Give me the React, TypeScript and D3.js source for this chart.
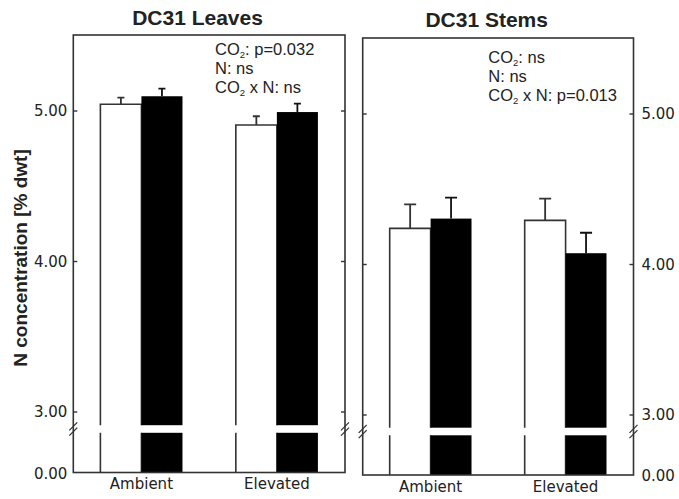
import React from "react";
import * as d3 from "d3";

// ---- data ----
const treatments = ["Ambient", "Elevated"];
const subSeries = ["open", "filled"];

const leavesOpen = [5.045, 4.907];
const leavesOpenSE = [0.044, 0.058];
const leavesFilled = [5.098, 4.993];
const leavesFilledSE = [0.051, 0.056];

const stemsOpen = [4.24, 4.293];
const stemsOpenSE = [0.16, 0.145];
const stemsFilled = [4.305, 4.075];
const stemsFilledSE = [0.14, 0.136];

const yTickValues = [5, 4, 3];
const yTickLabels = ["5.00", "4.00", "3.00"];
const zeroLabel = "0.00";

const leavesStats = ["CO2: p=0.032", "N: ns", "CO2 x N: ns"];
const stemsStats = ["CO2: ns", "N: ns", "CO2 x N: p=0.013"];

const yAxisTitle = "N concentration [% dwt]";

const INK = "#222";
const LINE = "#333";
const SANS = "'Liberation Sans', Arial, sans-serif";
const TICKFONT = "'DejaVu Sans', Verdana, sans-serif";

function StatLine({ text, x, y }: { text: string; x: number; y: number }) {
  const parts = text.split("CO2");
  const out: any[] = [];
  parts.forEach((p, i) => {
    if (i > 0) {
      out.push(<tspan key={"c" + i}>CO</tspan>);
      out.push(
        <tspan key={"s" + i} fontSize="9.5" dy="3">
          2
        </tspan>
      );
      out.push(
        <tspan key={"p" + i} dy="-3">
          {p}
        </tspan>
      );
    } else if (p.length) {
      out.push(<tspan key={"p" + i}>{p}</tspan>);
    }
  });
  return (
    <text x={x} y={y} fontFamily={SANS} fontSize={16.5} fill={INK}>
      {out}
    </text>
  );
}

type PanelProps = {
  x0: number;
  x1: number;
  top: number;
  bottom: number;
  y5: number;
  y3: number;
  breakY: number;
  open: number[];
  openSE: number[];
  filled: number[];
  filledSE: number[];
  capW: number;
  labelSide: "left" | "right";
  title: string;
  titleX: number;
  titleY: number;
  stats: string[];
  statsX: number;
  statsY: number;
  xLabelY: number;
};

function Panel(p: PanelProps) {
  const yUp = d3.scaleLinear().domain([3, 5]).range([p.y3, p.y5]);
  const gap = 3.8;
  const upMin = yUp.invert(p.breakY - gap);
  const yLow = d3.scaleLinear().domain([0, 1]).range([p.bottom, p.breakY + gap]);
  const xBand = d3
    .scaleBand()
    .domain(treatments)
    .range([p.x0, p.x1])
    .paddingInner(0.394)
    .paddingOuter(0.2);
  const xSub = d3.scaleBand().domain(subSeries).range([0, xBand.bandwidth()]);
  const bw = xSub.bandwidth();

  const bars: any[] = [];
  treatments.forEach((t, i) => {
    const gx = xBand(t)!;
    [
      { k: "open", v: p.open[i], se: p.openSE[i] },
      { k: "filled", v: p.filled[i], se: p.filledSE[i] },
    ].forEach((b) => {
      const bx = gx + xSub(b.k)!;
      const yt = yUp(b.v);
      const yb = yUp(upMin);
      const ly0 = yLow(0);
      const ly1 = yLow(1);
      const cx = bx + bw / 2;
      const ye = yUp(b.v + b.se);
      if (b.k === "filled") {
        bars.push(<rect key={t + b.k + "u"} x={bx} y={yt} width={bw} height={yb - yt} fill="#000" />);
        bars.push(<rect key={t + b.k + "l"} x={bx} y={ly1} width={bw} height={ly0 - ly1} fill="#000" />);
      } else {
        bars.push(
          <path
            key={t + b.k + "u"}
            d={`M${bx},${yb}L${bx},${yt}L${bx + bw},${yt}L${bx + bw},${yb}`}
            fill="#fff"
            stroke={LINE}
            strokeWidth={1.6}
          />
        );
        bars.push(
          <path
            key={t + b.k + "l"}
            d={`M${bx},${ly0}L${bx},${ly1}M${bx + bw},${ly1}L${bx + bw},${ly0}`}
            fill="none"
            stroke={LINE}
            strokeWidth={1.6}
          />
        );
      }
      bars.push(
        <path
          key={t + b.k + "e"}
          d={`M${cx},${yt}L${cx},${ye}M${cx - p.capW / 2},${ye}L${cx + p.capW / 2},${ye}`}
          stroke={b.k === "filled" ? "#111" : LINE}
          strokeWidth={1.8}
          fill="none"
        />
      );
    });
  });

  const ticks: any[] = [];
  yTickValues.forEach((v, i) => {
    const y = yUp(v);
    ticks.push(<line key={"tl" + i} x1={p.x0} x2={p.x0 + 4} y1={y} y2={y} stroke={LINE} strokeWidth={1.4} />);
    ticks.push(<line key={"tr" + i} x1={p.x1 - 4} x2={p.x1} y1={y} y2={y} stroke={LINE} strokeWidth={1.4} />);
    const lx = p.labelSide === "left" ? p.x0 - 6 : p.x1 + 8;
    ticks.push(
      <text
        key={"lab" + i}
        x={lx}
        y={y}
        dy="0.36em"
        textAnchor={p.labelSide === "left" ? "end" : "start"}
        fontFamily={TICKFONT}
        fontSize={15}
        fill={INK}
      >
        {yTickLabels[i]}
      </text>
    );
  });
  const lx0 = p.labelSide === "left" ? p.x0 - 6 : p.x1 + 8;
  ticks.push(
    <text
      key="zero"
      x={lx0}
      y={yLow(0)}
      dy="0.4em"
      textAnchor={p.labelSide === "left" ? "end" : "start"}
      fontFamily={TICKFONT}
      fontSize={15}
      fill={INK}
    >
      {zeroLabel}
    </text>
  );

  const breaks = [p.x0, p.x1].map((x, i) => (
    <g key={"br" + i}>
      {[-2.6, 2.6].map((d, j) => (
        <line
          key={j}
          x1={x - 4}
          y1={p.breakY + d + 4}
          x2={x + 4}
          y2={p.breakY + d - 4}
          stroke={LINE}
          strokeWidth={1.3}
        />
      ))}
    </g>
  ));

  return (
    <g>
      <text x={p.titleX} y={p.titleY} textAnchor="middle" fontFamily={SANS} fontWeight="bold" fontSize={21} fill={INK}>
        {p.title}
      </text>
      {bars}
      <rect
        x={p.x0}
        y={p.top}
        width={p.x1 - p.x0}
        height={p.bottom - p.top}
        fill="none"
        stroke={LINE}
        strokeWidth={1.6}
      />
      {ticks}
      {breaks}
      {p.stats.map((s, i) => (
        <StatLine key={i} text={s} x={p.statsX} y={p.statsY + i * 19} />
      ))}
      {treatments.map((t) => (
        <text
          key={"x" + t}
          x={xBand(t)! + xBand.bandwidth() / 2}
          y={p.xLabelY}
          textAnchor="middle"
          fontFamily={TICKFONT}
          fontSize={15}
          fill={INK}
        >
          {t}
        </text>
      ))}
    </g>
  );
}

export default function App() {
  return (
    <svg
      width={679}
      height={499}
      viewBox="0 0 679 499"
      style={{ position: "absolute", left: 0, top: 0, background: "#fff" }}
    >
      <rect x={0} y={0} width={679} height={499} fill="#fff" />
      <Panel
        x0={73.3}
        x1={345}
        top={35}
        bottom={472.5}
        y5={111}
        y3={412}
        breakY={429}
        open={leavesOpen}
        openSE={leavesOpenSE}
        filled={leavesFilled}
        filledSE={leavesFilledSE}
        capW={7}
        labelSide="left"
        title="DC31 Leaves"
        titleX={197.5}
        titleY={25}
        stats={leavesStats}
        statsX={215}
        statsY={54.5}
        xLabelY={489}
      />
      <Panel
        x0={362.7}
        x1={633.5}
        top={38}
        bottom={475}
        y5={114}
        y3={415}
        breakY={431.5}
        open={stemsOpen}
        openSE={stemsOpenSE}
        filled={stemsFilled}
        filledSE={stemsFilledSE}
        capW={12}
        labelSide="right"
        title="DC31 Stems"
        titleX={486.7}
        titleY={27}
        stats={stemsStats}
        statsX={488.3}
        statsY={63.3}
        xLabelY={492}
      />
      <text
        transform="translate(27,258) rotate(-90)"
        textAnchor="middle"
        fontFamily={SANS}
        fontWeight="bold"
        fontSize={19}
        fill={INK}
      >
        {yAxisTitle}
      </text>
    </svg>
  );
}
